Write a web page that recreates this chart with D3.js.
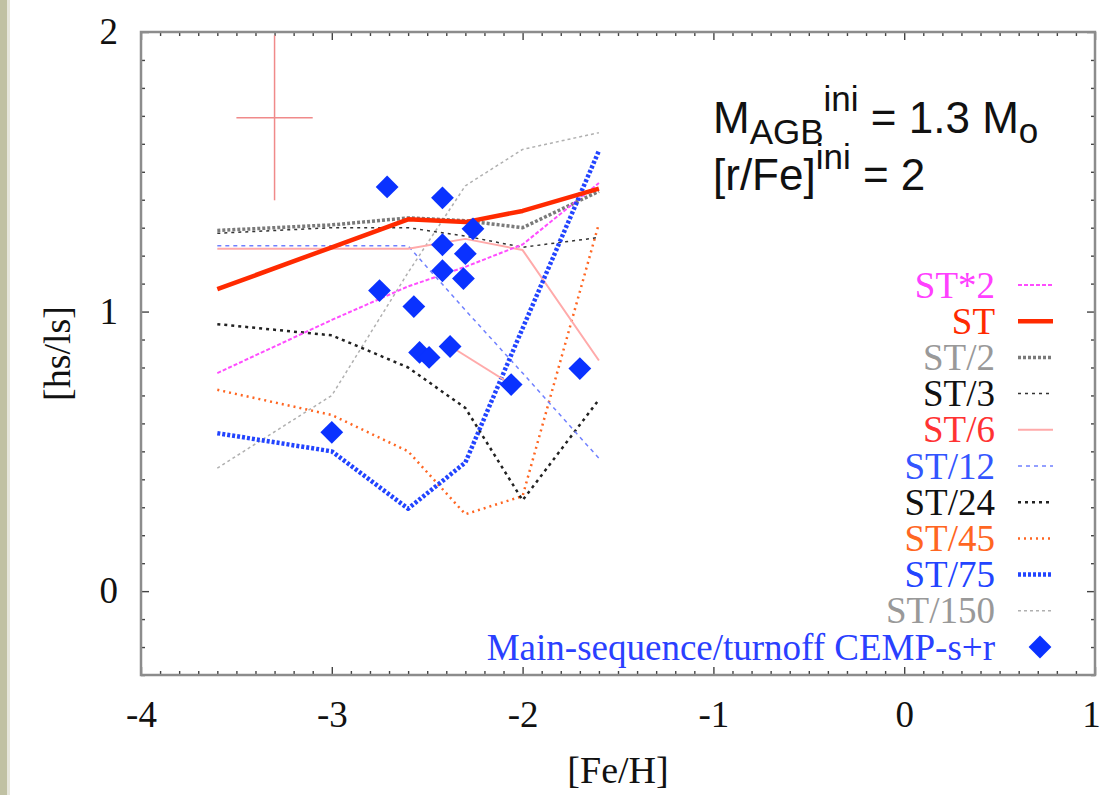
<!DOCTYPE html>
<html>
<head>
<meta charset="utf-8">
<script src="https://cdn.jsdelivr.net/npm/d3@7"></script>
<style>
  html, body { margin: 0; padding: 0; background: #fff; }
  svg { display: block; }
  .serif { font-family: "Liberation Serif", "Times New Roman", serif; }
  .sans { font-family: "Liberation Sans", Arial, Helvetica, sans-serif; }
</style>
</head>
<body>
<svg id="chart" width="1101" height="795"></svg>
<script>
"use strict";

// model grid in [Fe/H]
var feh = [-3.6, -3.0, -2.6, -2.3, -2.0, -1.6];

// [hs/ls] for each dilution
var st_x2   = [0.78, 0.97, 1.09, 1.16, 1.24, 1.46];
var st      = [1.08, 1.23, 1.33, 1.32, 1.36, 1.44];
var st_d2   = [1.29, 1.31, 1.335, 1.325, 1.30, 1.43];
var st_d3   = [1.28, 1.30, 1.30, 1.27, 1.23, 1.265];
var st_d6   = [1.225, 1.225, 1.225, 1.26, 1.22, 0.825];
var st_d12  = [1.235, 1.235, 1.235, 1.005, 0.78, 0.475];
var st_d24  = [0.955, 0.915, 0.80, 0.655, 0.325, 0.685];
var st_d45  = [0.72, 0.63, 0.50, 0.275, 0.34, 1.315];
var st_d75  = [0.565, 0.50, 0.295, 0.46, 0.94, 1.575];
var st_d150 = [0.44, 0.70, 1.14, 1.45, 1.58, 1.64];

// short pink segment joining two stars
var tie_feh = [-2.377, -2.058];
var tie_hsls = [0.875, 0.739];

// CEMP-s+r main-sequence / turnoff stars
var star_feh  = [-2.71, -2.42, -2.26, -2.42, -2.30, -2.42, -2.31, -2.75, -2.57, -2.54, -2.49, -2.38, -2.06, -1.70, -3.00];
var star_hsls = [1.446, 1.407, 1.296, 1.239, 1.207, 1.146, 1.118, 1.075, 1.018, 0.854, 0.836, 0.875, 0.739, 0.796, 0.568];

// typical error bar
var err_feh = -3.3, err_hsls = 1.693, err_dx = 0.2, err_dy = 0.295;

var x_ticks = [-4, -3, -2, -1, 0, 1];
var y_ticks = [0, 1, 2];

var series = [
  {label: 'ST*2',   values: st_x2,   color: '#ff4dff', text: '#ff40ff', width: 2,   dash: '4,2'},
  {label: 'ST',     values: st,      color: '#ff2a00', text: '#ff2a00', width: 4.5, dash: null},
  {label: 'ST/2',   values: st_d2,   color: '#7a7a7a', text: '#999999', width: 3.5, dash: '3,2'},
  {label: 'ST/3',   values: st_d3,   color: '#333333', text: '#111111', width: 1.5, dash: '3,4'},
  {label: 'ST/6',   values: st_d6,   color: '#ffaaaa', text: '#ff3333', width: 2,   dash: null},
  {label: 'ST/12',  values: st_d12,  color: '#7080ff', text: '#3355ff', width: 1.5, dash: '4,4'},
  {label: 'ST/24',  values: st_d24,  color: '#222222', text: '#111111', width: 2.5, dash: '3,4'},
  {label: 'ST/45',  values: st_d45,  color: '#ff6622', text: '#ff6622', width: 2.5, dash: '2,4'},
  {label: 'ST/75',  values: st_d75,  color: '#2244ff', text: '#2244ff', width: 4.5, dash: '3,2'},
  {label: 'ST/150', values: st_d150, color: '#b0b0b0', text: '#999999', width: 1.5, dash: '3,3'}
];

function draw_chart() {
  var svg = d3.select('#chart');
  var m_left = 141, m_right = 1095, m_top = 32, m_bottom = 675;
  var x = d3.scaleLinear().domain([-4, 1]).range([m_left, m_right]);
  var y = d3.scaleLinear().domain([-0.3, 2]).range([m_bottom, m_top]);

  // scanned-page edge on the left
  svg.append('rect').attr('x', 0).attr('y', 0).attr('width', 7).attr('height', 795).attr('fill', '#c0c1a3');
  svg.append('rect').attr('x', 7).attr('y', 0).attr('width', 3).attr('height', 795).attr('fill', '#e6e6dc');

  function minor_values(lo, hi) {
    var out = [];
    for (var i = Math.round(lo * 10); i <= Math.round(hi * 10); i++) {
      if (i % 10 !== 0) out.push(i / 10);
    }
    return out;
  }

  function style_axis(g) {
    g.select('.domain').remove();
    g.selectAll('.tick line').attr('stroke', '#444').attr('stroke-width', 1.4);
    g.selectAll('.tick text')
      .attr('class', 'serif')
      .attr('font-size', 37)
      .attr('fill', '#111');
  }

  var fmt = function(d) { return String(d); };

  // inward ticks on all four sides
  svg.append('g').attr('transform', 'translate(0,' + m_bottom + ')')
    .call(d3.axisBottom(x).tickValues(minor_values(-4, 1)).tickSize(-4).tickFormat(''))
    .call(style_axis);
  var x_axis = svg.append('g').attr('transform', 'translate(0,' + m_bottom + ')')
    .call(d3.axisBottom(x).tickValues(x_ticks).tickSize(-8).tickPadding(26).tickFormat(fmt))
    .call(style_axis);
  // keep the last label inside the page
  x_axis.selectAll('.tick text').filter(function(d) { return d === 1; }).attr('dx', -4);
  svg.append('g').attr('transform', 'translate(0,' + m_top + ')')
    .call(d3.axisTop(x).tickValues(minor_values(-4, 1)).tickSize(-4).tickFormat(''))
    .call(style_axis);
  svg.append('g').attr('transform', 'translate(0,' + m_top + ')')
    .call(d3.axisTop(x).tickValues(x_ticks).tickSize(-8).tickFormat(''))
    .call(style_axis);
  svg.append('g').attr('transform', 'translate(' + m_left + ',0)')
    .call(d3.axisLeft(y).tickValues(minor_values(-0.3, 2)).tickSize(-4).tickFormat(''))
    .call(style_axis);
  svg.append('g').attr('transform', 'translate(' + m_left + ',0)')
    .call(d3.axisLeft(y).tickValues(y_ticks).tickSize(-8).tickPadding(23).tickFormat(fmt))
    .call(style_axis);
  svg.append('g').attr('transform', 'translate(' + m_right + ',0)')
    .call(d3.axisRight(y).tickValues(minor_values(-0.3, 2)).tickSize(-4).tickFormat(''))
    .call(style_axis);
  svg.append('g').attr('transform', 'translate(' + m_right + ',0)')
    .call(d3.axisRight(y).tickValues(y_ticks).tickSize(-8).tickFormat(''))
    .call(style_axis);

  // frame
  svg.append('rect')
    .attr('x', m_left).attr('y', m_top)
    .attr('width', m_right - m_left).attr('height', m_bottom - m_top)
    .attr('fill', 'none').attr('stroke', '#8c8c8c').attr('stroke-width', 2.5);

  // axis titles
  svg.append('text').attr('class', 'serif')
    .attr('x', (m_left + m_right) / 2).attr('y', 783)
    .attr('text-anchor', 'middle').attr('font-size', 38).attr('fill', '#111')
    .text('[Fe/H]');
  svg.append('text').attr('class', 'serif')
    .attr('transform', 'translate(70,' + ((m_top + m_bottom) / 2) + ') rotate(-90)')
    .attr('text-anchor', 'middle').attr('font-size', 38).attr('fill', '#111')
    .text('[hs/ls]');

  // error bar
  var err = svg.append('g').attr('stroke', '#f08a8a').attr('stroke-width', 1.5);
  err.append('line')
    .attr('x1', x(err_feh - err_dx)).attr('x2', x(err_feh + err_dx))
    .attr('y1', y(err_hsls)).attr('y2', y(err_hsls));
  err.append('line')
    .attr('x1', x(err_feh)).attr('x2', x(err_feh))
    .attr('y1', y(err_hsls - err_dy)).attr('y2', y(err_hsls + err_dy));

  // model curves
  var line = d3.line().x(function(d) { return x(d[0]); }).y(function(d) { return y(d[1]); });
  var draw_order = [9, 7, 6, 3, 2, 5, 4, 0, 8, 1];
  draw_order.forEach(function(i) {
    var s = series[i];
    svg.append('path')
      .datum(d3.zip(feh, s.values))
      .attr('d', line)
      .attr('fill', 'none')
      .attr('stroke', s.color)
      .attr('stroke-width', s.width)
      .attr('stroke-dasharray', s.dash)
      .attr('stroke-linejoin', 'round');
  });
  svg.append('path')
    .datum(d3.zip(tie_feh, tie_hsls))
    .attr('d', line)
    .attr('fill', 'none').attr('stroke', '#ffaaaa').attr('stroke-width', 2);

  // stars
  var diamond = d3.symbol().type(d3.symbolSquare).size(260);
  svg.append('g').selectAll('path')
    .data(d3.zip(star_feh, star_hsls))
    .join('path')
    .attr('d', diamond)
    .attr('transform', function(d) { return 'translate(' + x(d[0]) + ',' + y(d[1]) + ') rotate(45)'; })
    .attr('fill', '#0a32ff');

  // annotation
  var ann = svg.append('text').attr('class', 'sans').attr('fill', '#111').attr('font-size', 44);
  ann.attr('x', 713).attr('y', 133);
  ann.append('tspan').text('M');
  ann.append('tspan').attr('font-size', 35).attr('dy', 11).text('AGB');
  ann.append('tspan').attr('font-size', 35).attr('dy', -33).text('ini');
  ann.append('tspan').attr('dy', 22).text(' = 1.3 M');
  ann.append('tspan').attr('font-size', 35).attr('dy', 10).text('o');

  var ann2 = svg.append('text').attr('class', 'sans').attr('fill', '#111').attr('font-size', 44);
  ann2.attr('x', 713).attr('y', 190);
  ann2.append('tspan').text('[r/Fe]');
  ann2.append('tspan').attr('font-size', 35).attr('dy', -21).text('ini');
  ann2.append('tspan').attr('dy', 21).text(' = 2');

  // key
  var key_y0 = 285, key_step = 36.2;
  var key = svg.append('g');
  series.forEach(function(s, i) {
    var cy = key_y0 + i * key_step;
    key.append('text').attr('class', 'serif')
      .attr('x', 995).attr('y', cy + 12.5)
      .attr('text-anchor', 'end').attr('font-size', 37).attr('fill', s.text)
      .text(s.label);
    key.append('line')
      .attr('x1', 1018).attr('x2', 1053).attr('y1', cy).attr('y2', cy)
      .attr('stroke', s.color)
      .attr('stroke-width', s.width)
      .attr('stroke-dasharray', s.dash);
  });
  var star_row = key_y0 + series.length * key_step;
  key.append('text').attr('class', 'serif')
    .attr('x', 995).attr('y', star_row + 12.5)
    .attr('text-anchor', 'end').attr('font-size', 37).attr('fill', '#2a40ff')
    .text('Main-sequence/turnoff CEMP-s+r');
  key.append('path')
    .attr('d', diamond)
    .attr('transform', 'translate(1040,' + star_row + ') rotate(45)')
    .attr('fill', '#0a32ff');
}

draw_chart();
</script>
</body>
</html>
